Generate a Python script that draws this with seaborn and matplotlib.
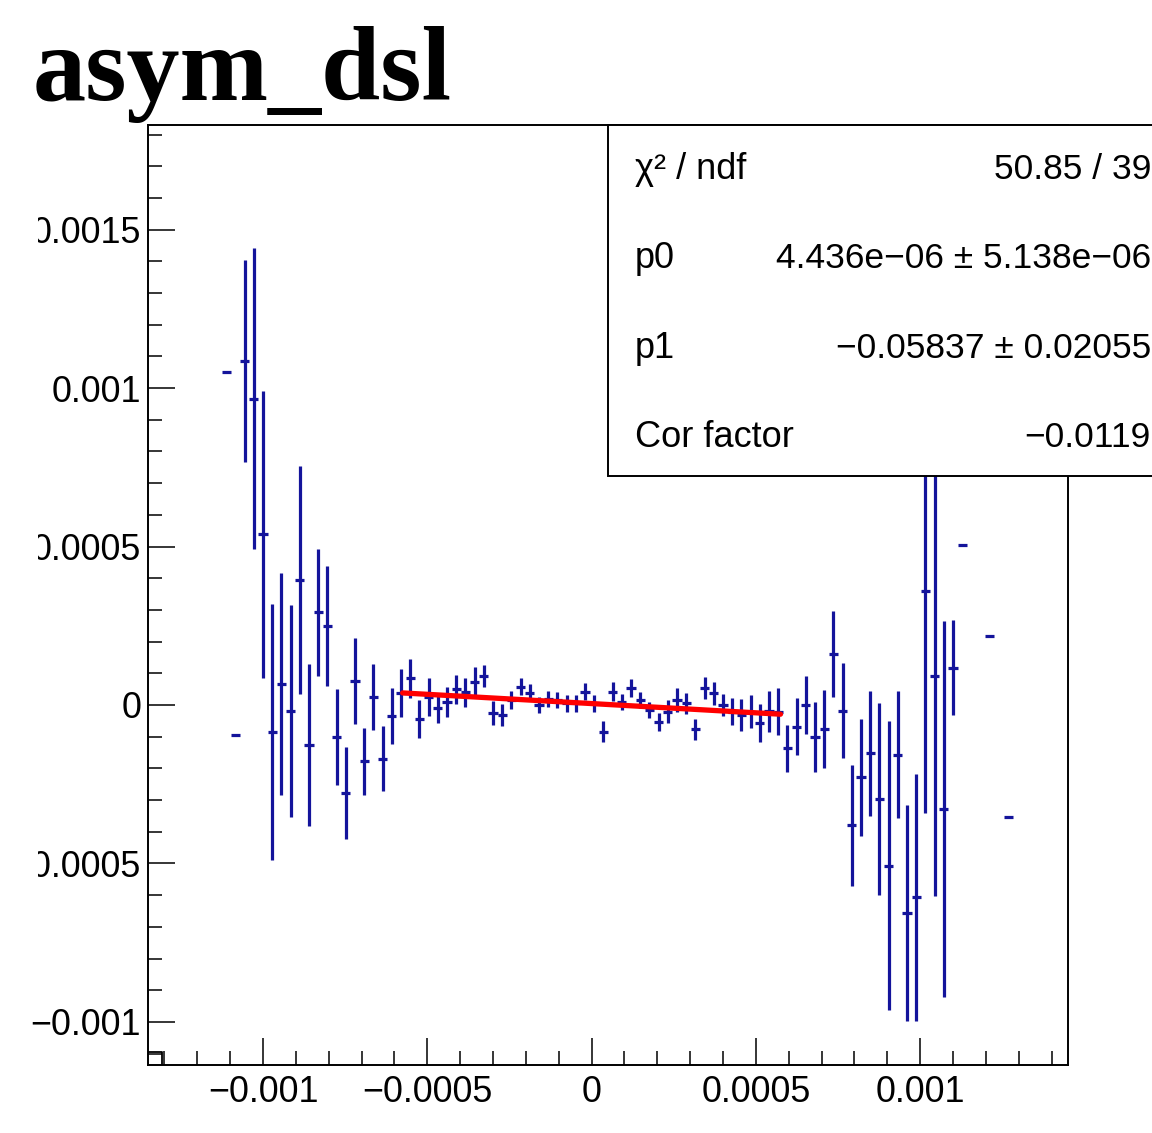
import numpy as np
import pandas as pd
import matplotlib
matplotlib.use("Agg")
import matplotlib.pyplot as plt
import seaborn as sns
from matplotlib.patches import Rectangle
from matplotlib.ticker import FixedLocator, FixedFormatter, MultipleLocator

# histogram binning (ROOT TH1, 100 bins)
n_bins = 100
x_low, x_high = -0.00135, 0.00145
y_low, y_high = -0.001136, 0.00183

# filled bins and their content / error (units of 1e-3)
bin_number = list(range(8, 89)) + [91, 93]
asym_milli = [
    1.050, -0.094, 1.085, 0.966, 0.538, -0.085, 0.066, -0.018, 0.394, -0.127,
    0.292, 0.250, -0.101, -0.279, 0.076, -0.178, 0.024, -0.169, -0.035, 0.037,
    0.084, -0.044, 0.026, -0.011, 0.010, 0.049, 0.040, 0.074, 0.091, -0.026,
    -0.032, 0.016, 0.058, 0.039, 0.000, 0.019, 0.016, 0.005, 0.005, 0.042,
    0.005, -0.084, 0.042, 0.010, 0.053, 0.016, -0.016, -0.053, -0.021, 0.016,
    0.005, -0.077, 0.053, 0.037, 0.000, -0.021, -0.032, -0.021, -0.058, -0.020,
    -0.021, -0.137, -0.068, 0.000, -0.100, -0.077, 0.160, -0.018, -0.380, -0.228,
    -0.152, -0.297, -0.507, -0.157, -0.657, -0.607, 0.360, 0.091, -0.329, 0.118,
    0.504, 0.219, -0.354,
]
asym_err_milli = [
    0.0, 0.0, 0.318, 0.475, 0.452, 0.403, 0.350, 0.335, 0.360, 0.255,
    0.200, 0.190, 0.150, 0.145, 0.135, 0.105, 0.104, 0.104, 0.087, 0.076,
    0.062, 0.060, 0.060, 0.045, 0.047, 0.047, 0.045, 0.045, 0.034, 0.037,
    0.035, 0.029, 0.026, 0.026, 0.026, 0.026, 0.026, 0.026, 0.026, 0.026,
    0.026, 0.032, 0.029, 0.026, 0.029, 0.026, 0.026, 0.029, 0.037, 0.037,
    0.032, 0.034, 0.034, 0.037, 0.034, 0.042, 0.050, 0.053, 0.060, 0.065,
    0.074, 0.075, 0.089, 0.092, 0.110, 0.123, 0.135, 0.150, 0.192, 0.185,
    0.197, 0.302, 0.457, 0.200, 0.340, 0.390, 0.700, 0.694, 0.593, 0.150,
    0.0, 0.0, 0.0,
]

# leftover step drawn at the lower-left corner
corner_x = [-0.00135, -0.001308, -0.001308]
corner_y = [-0.001095, -0.001095, -0.001136]

# pol1 fit
fit_p0 = 4.436e-06
fit_p1 = -0.05837
fit_range = (-0.000575, 0.000575)

stat_labels = ["χ² / ndf", "p0", "p1", "Cor factor"]
stat_values = ["50.85 / 39", "4.436e−06 ± 5.138e−06", "−0.05837 ± 0.02055", "−0.0119"]

x_major = [-0.001, -0.0005, 0.0, 0.0005, 0.001]
x_major_labels = ["−0.001", "−0.0005", "0", "0.0005", "0.001"]
y_major = [-0.001, -0.0005, 0.0, 0.0005, 0.001, 0.0015]
y_major_labels = ["−0.001", "−0.0005", "0", "0.0005", "0.001", "0.0015"]

bin_width = (x_high - x_low) / n_bins
df = pd.DataFrame({
    "x": x_low + (np.array(bin_number) + 0.5) * bin_width,
    "y": np.array(asym_milli) * 1e-3,
    "err": np.array(asym_err_milli) * 1e-3,
})
fit_x = np.linspace(fit_range[0], fit_range[1], 60)
fit_df = pd.DataFrame({"x": fit_x, "y": fit_p0 + fit_p1 * fit_x})

sns.set_style("white")
plt.rcParams["font.family"] = ["Liberation Sans", "DejaVu Sans"]
plt.rcParams["text.color"] = "black"

W, H = 1152, 1133
fig = plt.figure(figsize=(W / 100, H / 100), dpi=100)
ax = fig.add_axes([148 / W, 1 - 1065 / H, 920 / W, 940 / H])

blue = "#14149b"
ax.errorbar(df["x"], df["y"], yerr=df["err"], xerr=bin_width / 2, fmt="none",
            ecolor=blue, elinewidth=2.3, capsize=0, zorder=2)
ax.plot(corner_x, corner_y, color="black", lw=1.3, zorder=2)
sns.lineplot(data=fit_df, x="x", y="y", color="red", lw=3.8, ax=ax, zorder=3)

ax.set_xlim(x_low, x_high)
ax.set_ylim(y_low, y_high)
ax.set_xlabel("")
ax.set_ylabel("")

ax.xaxis.set_major_locator(FixedLocator(x_major))
ax.xaxis.set_major_formatter(FixedFormatter(x_major_labels))
ax.xaxis.set_minor_locator(MultipleLocator(0.0001))
ax.yaxis.set_major_locator(FixedLocator(y_major))
ax.yaxis.set_major_formatter(FixedFormatter(y_major_labels))
ax.yaxis.set_minor_locator(MultipleLocator(0.0001))

ax.tick_params(which="both", direction="in", bottom=True, left=True, top=False,
               right=False, color="black", width=1.1, labelsize=25.8, labelcolor="black")
ax.tick_params(which="major", length=19.5)
ax.tick_params(which="minor", length=10)
ax.tick_params(axis="x", pad=7)
ax.tick_params(axis="y", pad=5)
for s in ax.spines.values():
    s.set_color("black")
    s.set_linewidth(1.4)

# stat box
fig.add_artist(Rectangle((608 / W, 1 - 476 / H), 600 / W, 351 / H,
                         transform=fig.transFigure, facecolor="white",
                         edgecolor="black", lw=1.4, zorder=5))
for k, (lab, val) in enumerate(zip(stat_labels, stat_values)):
    yb = 1 - (179 + 89.3 * k) / H
    fig.text(635 / W, yb, lab, fontsize=26, va="baseline", ha="left",
             color="black", zorder=6)
    fig.text(1151 / W, yb, val, fontsize=25.5, va="baseline", ha="right",
             color="black", zorder=6)

# y labels cut by the canvas edge
fig.add_artist(Rectangle((0, 1 - 1000 / H), 38 / W, 875 / H, transform=fig.transFigure,
                         facecolor="white", lw=0, zorder=7))

fig.text(33 / W, 1 - 100 / H, "asym_dsl", fontsize=76.5, fontweight="bold",
         family="Liberation Serif", va="baseline", ha="left", color="black")

fig.savefig("out.png", dpi=100)
